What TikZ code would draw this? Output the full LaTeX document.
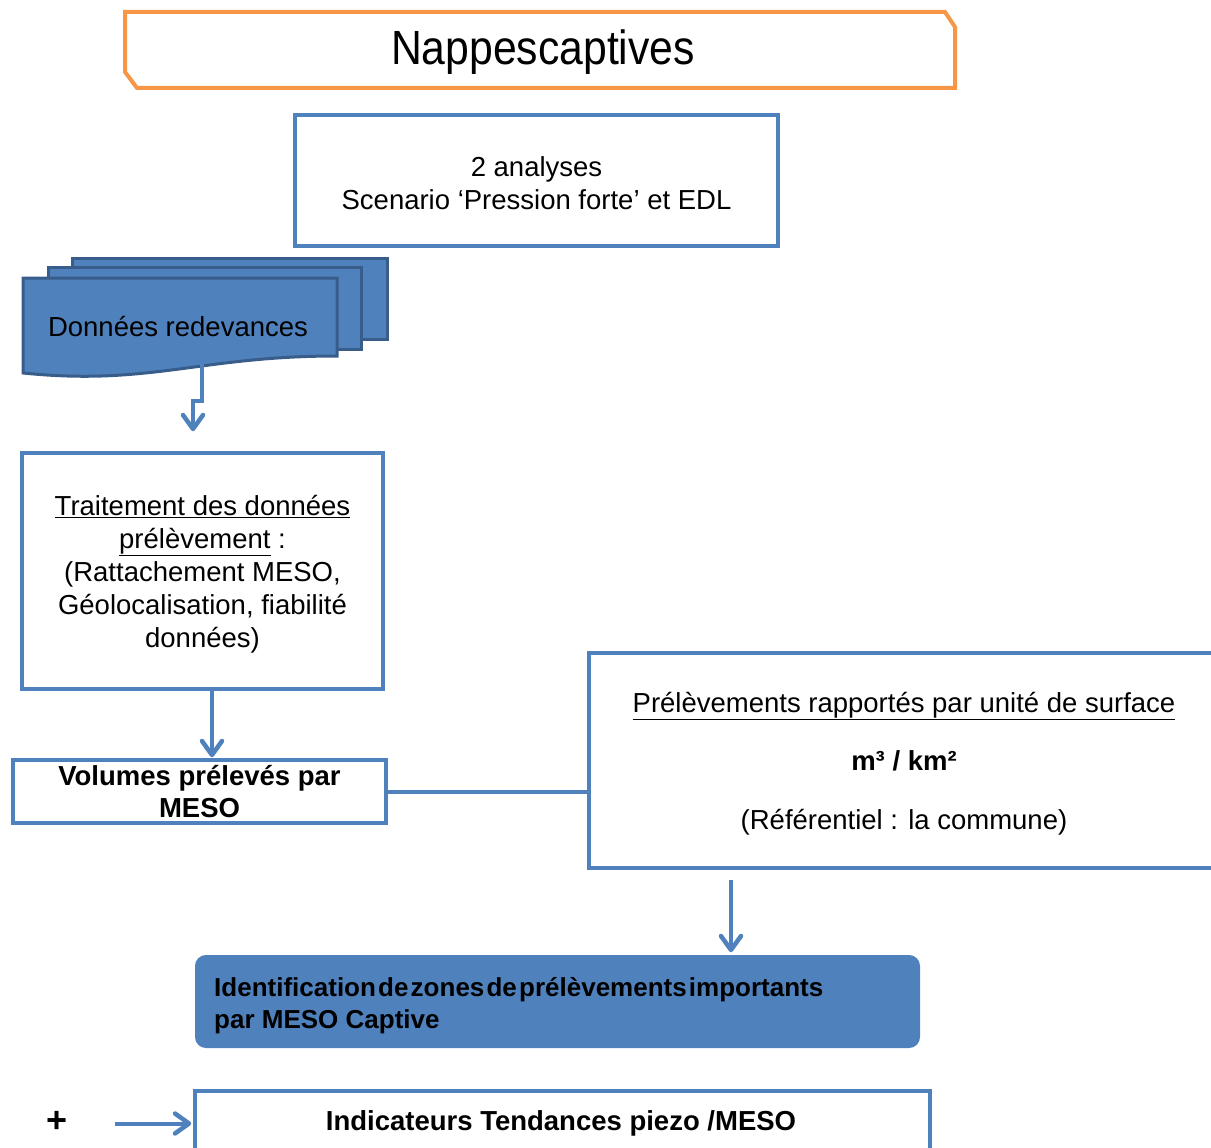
\documentclass[tikz,border=0pt]{standalone}
\usepackage{fontspec}
\setmainfont{Liberation Sans}
\newfontfamily\titlefont[FakeStretch=0.89]{Liberation Sans}
\definecolor{accblue}{HTML}{4F81BD}
\definecolor{darkblue}{HTML}{385D8A}
\definecolor{accorange}{HTML}{F79646}
\newcommand\chevdown[1]{\draw[chev] ([xshift=-10pt,yshift=14pt]#1) -- (#1) -- ([xshift=10pt,yshift=14pt]#1);}
\newcommand\chevright[1]{\draw[chev] ([xshift=-14pt,yshift=10pt]#1) -- (#1) -- ([xshift=-14pt,yshift=-10pt]#1);}
\begin{document}
\begin{tikzpicture}[x=1pt,y=-1pt,
  txt/.style={font=\fontsize{27.5}{33}\selectfont,inner sep=0pt},
  bluebox/.style={draw=accblue,line width=4pt,fill=white,inner sep=0pt},
  docpage/.style={fill=accblue,draw=darkblue,line width=3pt},
  conn/.style={draw=accblue,line width=4pt},
  chev/.style={draw=accblue,line width=4.5pt,line cap=round,line join=round}]
\useasboundingbox (0,0) rectangle (1211,1148);

% title
\draw[accorange,line width=4pt] (125,12) -- (945,12) -- (955,27) -- (955,88) -- (137,88) -- (125,72) -- cycle;
\node[inner sep=0pt,font=\titlefont\fontsize{48}{50}\selectfont] (title) at (543,52) {Nappescaptives};

% analyses
\node[bluebox,minimum width=483pt,minimum height=131pt] (ana) at (536.5,180.5) {};
\node[txt,align=center] (anatxt) at ([yshift=-2.5pt]ana.center) {2 analyses\\Scenario ‘Pression forte’ et EDL};

% document stack
\filldraw[docpage] (72,258) rectangle (387,339);
\filldraw[docpage] (48,267) rectangle (361,349);
\filldraw[docpage] (23,278) -- (337,278) -- (337,356) .. controls (200,356) and (150,386) .. (23,373) -- cycle;
\node[txt] (doc) at (178,327) {Données redevances};
\coordinate (docb) at (202,364);
\coordinate (docin) at (193,429);
\draw[conn] (docb) -- (202,401) -- (193,401) -- ([yshift=3pt]docin);
\chevdown{docin}

% traitement
\node[bluebox,minimum width=361pt,minimum height=236pt] (trait) at (202.5,571) {};
\node[txt,align=center] (traittxt) at ([yshift=-3pt]trait.center)
  {\underline{Traitement des données}\\\underline{prélèvement}~:\\(Rattachement MESO,\\Géolocalisation, fiabilité\\données)};

% volumes
\node[bluebox,font=\bfseries\fontsize{27.5}{32}\selectfont,minimum width=373pt,minimum height=63pt,align=center] (vol) at (199.5,791.5)
  {Volumes prélevés par\\MESO};
\coordinate (voltip) at ([xshift=12.5pt,yshift=3pt]vol.north);
\draw[conn] ([xshift=9.5pt]trait.south) -- ([yshift=3pt]voltip);
\chevdown{voltip}

% prelevements
\node[bluebox,minimum width=630pt,minimum height=215pt] (prel) at (904,760.5) {};
\node[txt,font=\fontsize{27.5}{58.5}\selectfont,align=center] (preltxt) at ([yshift=-3pt]prel.center)
  {\underline{Prélèvements rapportés par unité de surface}\\{\bfseries m³ / km²}\\(Référentiel : la commune)};
\draw[conn] (vol.east) -- (vol.east -| prel.west);

% identification
\node[fill=accblue,draw=accblue,line width=2pt,rounded corners=10pt,minimum width=723pt,minimum height=91pt] (ident) at (557.5,1001.5) {};
\node[anchor=west,inner sep=0pt,align=left,font=\bfseries\fontsize{26}{32}\selectfont]
  (identtxt) at ([xshift=19pt,yshift=-4pt]ident.west)
  {\spaceskip=2.2pt\relax Identification de zones de prélèvements importants\\par MESO Captive};
\coordinate (identtip) at ([xshift=-173pt,yshift=5pt]prel.south |- ident.north);
\draw[conn] ([xshift=-173pt,yshift=-10pt]prel.south) -- ([yshift=3pt]identtip);
\chevdown{identtip}

% indicateurs
\node[font=\bfseries\fontsize{36}{40}\selectfont,inner sep=0pt] (plus) at (57,1122) {+};
\node[bluebox,minimum width=735pt,minimum height=71pt] (ind) at (562.5,1126.5) {};
\node[inner sep=0pt,font=\bfseries\fontsize{27.5}{32}\selectfont] (indtxt) at (561,1123.5) {Indicateurs Tendances piezo /MESO};
\coordinate (istart) at (115,1123.5);
\coordinate (itip) at ([xshift=-4pt]istart -| ind.west);
\draw[conn] (istart) -- ([xshift=-3pt]itip);
\chevright{itip}
\end{tikzpicture}
\end{document}
